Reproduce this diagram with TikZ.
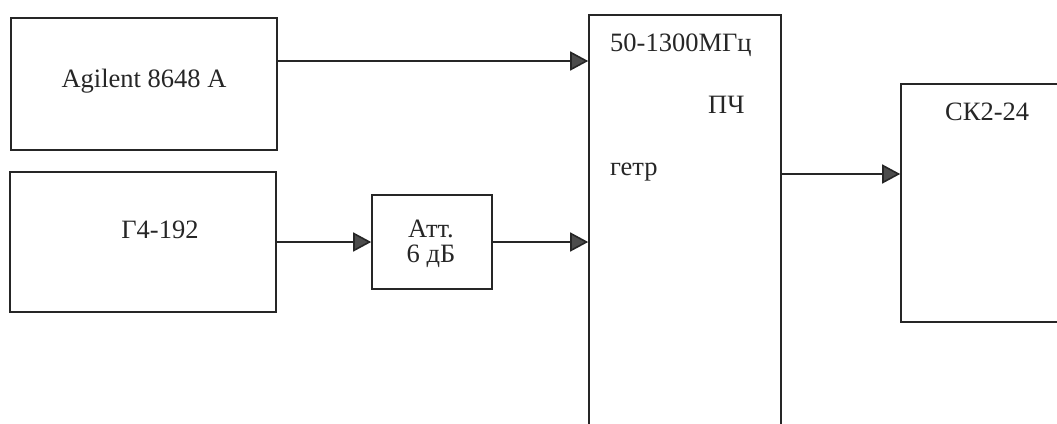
\documentclass[tikz,border=0pt]{standalone}
\usepackage{fontspec}
\setmainfont{Liberation Serif}
\usepackage{tikz}
\usetikzlibrary{arrows.meta,positioning,calc}

\begin{document}
\begin{tikzpicture}[
    x=1pt, y=-1pt,
    font=\fontsize{26.5}{25}\selectfont,
    block/.style={rectangle, draw=black!85, line width=1.6pt, inner sep=0pt},
    lbl/.style={inner sep=0pt, text=black!85, anchor=base},
    arrow/.style={-{Triangle[length=18pt, width=19pt, fill=black!70]}, line width=1.6pt, draw=black!85}
]
    \useasboundingbox (0,0) rectangle (1057,423);
    \clip (0,0) rectangle (1057,423);

    \node [block, minimum width=266pt, minimum height=132pt] (agil) at (144,84) {};
    \node [block, minimum width=266pt, minimum height=140pt] (gen) at (143,242) {};
    \node [block, minimum width=120pt, minimum height=94pt] (att) at (432,242) {};
    \node [block, minimum width=192pt, minimum height=445pt] (mix) at (685,237.5) {};
    \node [block, minimum width=199pt, minimum height=238pt] (ck) at (1000.5,203) {};

    \node [lbl] (agilT) at (144,87) {Agilent 8648 A};
    \node [lbl] (genT) at (160,238) {Г4-192};
    \node [lbl, align=center] (attT) at (431,262) {Атт.\\6 дБ};
    \node [lbl, anchor=base west] (mixF) at (610,51) {50-1300МГц};
    \node [lbl, anchor=base west] (mixIF) at (708,113) {ПЧ};
    \node [lbl, anchor=base west] (mixLO) at (610,175) {гетр};
    \node [lbl, anchor=base west] (ckT) at (945,120) {СК2-24};

    \draw [arrow] ([yshift=23pt]agil.east) -- ([yshift=23pt]agil.east -| mix.west);
    \draw [arrow] (gen) -- (att);
    \draw [arrow] (att.east) -- (att.east -| mix.west);
    \draw [arrow] ([yshift=29pt]ck.west -| mix.east) -- ([yshift=29pt]ck.west);
\end{tikzpicture}
\end{document}
